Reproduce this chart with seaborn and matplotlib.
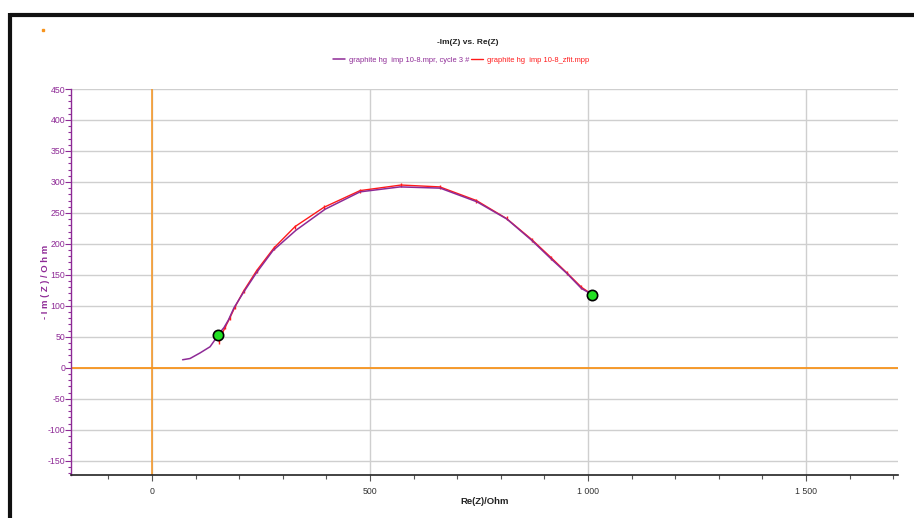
import matplotlib
matplotlib.use("Agg")
import matplotlib.pyplot as plt
from matplotlib.lines import Line2D
from matplotlib.ticker import MultipleLocator, FuncFormatter
import seaborn as sns
import pandas as pd

# ---- data ----
meas_re = [70, 87, 110, 133, 144, 151, 165, 175, 188, 209, 238, 277, 330, 397, 477,
           569, 661, 745, 814, 872, 915, 952, 985, 1010]
meas_im = [13, 15, 24, 34, 45, 53, 65, 77, 97, 121, 152, 189, 222, 256, 284,
           292, 290, 268, 240, 205, 176, 152, 128, 118]
fit_re = [154, 160, 168, 178, 190, 210, 240, 279, 328, 394, 477, 571, 660, 744, 813,
          871, 915, 952, 985, 1008]
fit_im = [42, 54, 66, 80, 98, 124, 157, 193, 228, 259, 286, 295, 292, 270, 241,
          207, 178, 153, 130, 119]
marker_re = [151, 1010]
marker_im = [53, 118]
title = "-Im(Z) vs. Re(Z)"
label_meas = "graphite hg  imp 10-8.mpr, cycle 3 #"
label_fit = "graphite hg  imp 10-8_zfit.mpp"

sns.set_theme(style="white")
plt.rcParams['font.family'] = ['Liberation Sans Narrow', 'Liberation Sans', 'DejaVu Sans']

PURPLE = '#8e2a96'
RED = '#ff1a1a'
ORANGE = '#f7941d'

W, H = 914, 518
fig = plt.figure(figsize=(W / 100, H / 100), dpi=100)
ax = fig.add_axes([71 / W, 1 - 475 / H, (898 - 71) / W, (475 - 89) / H])

df_m = pd.DataFrame({'re': meas_re, 'im': meas_im})
df_f = pd.DataFrame({'re': fit_re, 'im': fit_im})

ax.axhline(0, color=ORANGE, lw=1.3, zorder=1.5)
ax.axvline(0, color=ORANGE, lw=1.1, zorder=1.5)

sns.lineplot(data=df_m, x='re', y='im', sort=False, color=PURPLE, lw=1.1,
             ax=ax, label=label_meas, zorder=3)
sns.lineplot(data=df_f, x='re', y='im', sort=False, color=RED, lw=1.0,
             marker='|', markersize=3.5, markeredgewidth=1.0, markeredgecolor=RED,
             ax=ax, label=label_fit, zorder=2.8)
sns.scatterplot(x=marker_re, y=marker_im, color='#22e022', edgecolor='black',
                linewidth=1.2, s=55, ax=ax, zorder=5, legend=False)

ax.set_xlim(-186, 1711)
ax.set_ylim(-173, 450)

ax.xaxis.set_major_locator(MultipleLocator(500))
ax.xaxis.set_minor_locator(MultipleLocator(100))
ax.yaxis.set_major_locator(MultipleLocator(50))
ax.yaxis.set_minor_locator(MultipleLocator(10))
ax.xaxis.set_major_formatter(FuncFormatter(lambda v, p: f"{int(v):,}".replace(',', ' ')))
ax.yaxis.set_major_formatter(FuncFormatter(lambda v, p: f"{int(v)}"))

ax.grid(True, which='major', color='#cfcfcf', lw=1.0, zorder=0)
ax.set_axisbelow(True)

for s in ['top', 'right']:
    ax.spines[s].set_visible(False)
ax.spines['left'].set_color(PURPLE)
ax.spines['left'].set_linewidth(1.0)
ax.spines['bottom'].set_color('#222222')
ax.spines['bottom'].set_linewidth(1.2)

ax.tick_params(axis='x', which='both', direction='out', bottom=True, colors='#555555',
               labelcolor='#333333', labelsize=6.3, pad=5)
ax.tick_params(axis='x', which='major', length=4, width=0.8)
ax.tick_params(axis='x', which='minor', length=3, width=0.8)
ax.tick_params(axis='y', which='both', direction='out', left=True, colors=PURPLE,
               labelcolor=PURPLE, labelsize=6.3, pad=0)
ax.tick_params(axis='y', which='major', length=4, width=0.8)
ax.tick_params(axis='y', which='minor', length=2, width=0.8)

ax.set_xlabel("Re(Z)/Ohm", fontsize=6.8, fontweight='bold', color='#222222')
ax.set_ylabel("- I m ( Z ) / O h m", fontsize=6.8, fontweight='bold', color=PURPLE)
ax.xaxis.set_label_coords(0.5, -0.057)
ax.yaxis.set_label_coords(-0.025, 0.5)

leg = ax.legend(ncol=2, loc='center', bbox_to_anchor=(461 / W, 1 - 60 / H),
                bbox_transform=fig.transFigure, frameon=False, fontsize=5.4,
                handlelength=1.6, handletextpad=0.5, columnspacing=0.2,
                borderpad=0)
for txt, c in zip(leg.get_texts(), [PURPLE, RED]):
    txt.set_color(c)
for h in leg.legend_handles:
    h.set_marker('')

fig.text(468 / W, 1 - 43 / H, title, ha='center', va='center', fontsize=6,
         fontweight='bold', color='#222222')

# outer black frame (top and left edges)
fig.add_artist(Line2D([10 / W, 1], [1 - 15.3 / H, 1 - 15.3 / H], color='#111111',
                      lw=3, solid_capstyle='butt'))
fig.add_artist(Line2D([10.3 / W, 10.3 / W], [0, 1 - 13.3 / H], color='#111111',
                      lw=3, solid_capstyle='butt'))
fig.add_artist(Line2D([43 / W], [1 - 30 / H], marker='s', markersize=1.5,
                      color=ORANGE, lw=0))

fig.savefig("out.png", dpi=100, facecolor='white')
